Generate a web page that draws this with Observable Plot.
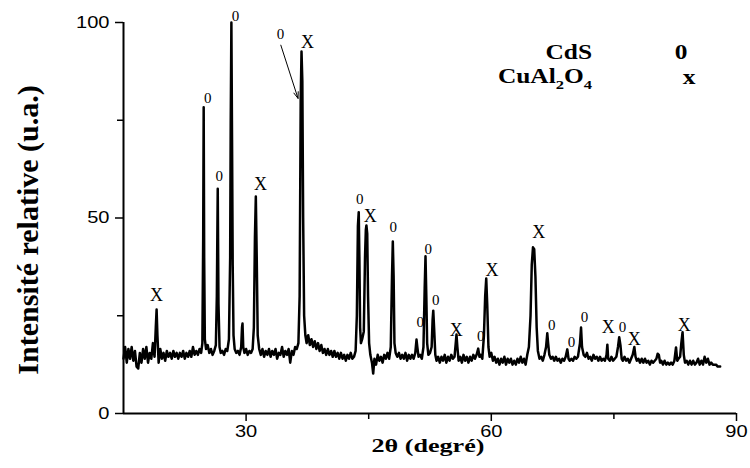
<!DOCTYPE html>
<html>
<head>
<meta charset="utf-8">
<script src="https://cdn.jsdelivr.net/npm/d3@7"></script>
<script src="https://cdn.jsdelivr.net/npm/@observablehq/plot@0.6"></script>
<style>
  html, body { margin: 0; padding: 0; background: #fff; }
  #chart { width: 750px; height: 468px; }
</style>
</head>
<body>
<div id="chart"></div>
<script>
// ---- Data ----
const twoTheta = [
  15.0,15.2,15.4,15.6,15.8,16.0,16.2,16.4,16.6,16.8,17.0,17.2,17.4,17.6,17.8,18.0,18.2,18.4,18.6,18.8,
  18.95,19.05,19.15,19.3,19.5,19.7,19.9,20.1,20.3,20.5,20.7,20.9,21.1,21.3,21.5,21.7,21.9,22.1,22.3,22.5,
  22.7,22.9,23.1,23.3,23.5,23.7,23.9,24.1,24.3,24.5,
  24.65,24.75,24.81,24.87,24.95,25.1,25.3,25.5,25.7,25.9,26.1,26.3,26.42,26.53,26.62,26.75,26.9,27.1,27.3,27.5,
  27.7,27.9,28.05,28.12,28.2,28.28,28.36,28.46,28.6,28.8,29.0,29.2,29.4,29.5,29.56,29.65,29.8,30.0,30.2,30.4,
  30.6,30.8,30.95,31.08,31.19,31.3,31.42,31.6,31.8,32.0,32.2,32.4,32.6,32.8,33.0,33.2,33.4,33.6,33.8,34.0,
  34.2,34.4,34.6,34.8,35.0,35.2,35.4,35.6,35.8,36.0,36.2,36.4,36.55,36.68,36.78,36.88,36.98,37.1,37.25,37.4,
  37.6,37.8,38.0,38.2,38.4,38.6,38.8,39.0,39.2,39.4,39.6,39.8,40.0,40.2,40.4,40.6,40.8,41.0,41.2,41.4,
  41.6,41.8,42.0,42.2,42.4,42.6,42.8,43.0,43.2,43.4,43.55,43.68,43.78,43.86,43.95,44.05,44.2,44.4,44.55,44.65,
  44.72,44.82,44.92,45.05,45.2,45.4,45.55,45.7,45.9,46.1,46.3,46.5,46.7,46.9,47.1,47.3,47.5,47.7,47.85,47.95,
  48.05,48.15,48.3,48.5,48.7,48.9,49.1,49.3,49.5,49.7,49.9,50.1,50.3,50.5,50.7,50.85,50.95,51.1,51.3,51.5,
  51.7,51.85,51.95,52.05,52.15,52.3,52.5,52.7,52.82,52.9,53.0,53.15,53.3,53.5,53.7,53.9,54.1,54.3,54.5,54.7,
  54.9,55.1,55.3,55.5,55.65,55.74,55.85,56.0,56.2,56.4,56.6,56.8,57.0,57.2,57.4,57.6,57.8,58.0,58.2,58.4,
  58.55,58.7,58.9,59.1,59.25,59.38,59.5,59.65,59.8,60.0,60.2,60.4,60.6,60.8,61.0,61.2,61.4,61.6,61.8,62.0,
  62.2,62.4,62.6,62.8,63.0,63.2,63.4,63.6,63.8,64.0,64.2,64.4,64.6,64.8,64.95,65.1,65.25,65.4,65.55,65.7,
  65.9,66.1,66.3,66.5,66.7,66.85,66.95,67.1,67.3,67.5,67.7,67.9,68.1,68.3,68.5,68.7,68.9,69.1,69.3,69.45,
  69.6,69.8,70.0,70.2,70.4,70.6,70.85,70.98,71.1,71.3,71.5,71.7,71.9,72.1,72.3,72.5,72.7,72.9,73.1,73.3,
  73.5,73.7,73.9,74.1,74.2,74.3,74.5,74.7,74.9,75.1,75.3,75.5,75.65,75.8,75.95,76.1,76.3,76.5,76.7,76.9,
  77.1,77.3,77.5,77.65,77.8,78.0,78.2,78.4,78.6,78.8,79.0,79.2,79.4,79.6,79.8,80.0,80.2,80.35,80.5,80.65,
  80.8,81.0,81.2,81.4,81.6,81.8,82.0,82.2,82.4,82.6,82.75,82.9,83.1,83.25,83.4,83.55,83.7,83.9,84.1,84.3,
  84.5,84.7,84.9,85.1,85.3,85.5,85.7,85.9,86.1,86.3,86.5,86.7,86.9,87.1,87.3,87.5,87.7,88.0
];
const intensity = [
  14,17,13,16.5,14,17,13.5,16,12,11.5,15.5,13,16.5,14,17,13,15.5,14,18,14.5,
  22,26.6,20,13,16.5,14,15.5,13.5,16,14.5,15.5,14,16,14.5,15.5,14,15.5,14.5,16,14,
  15.5,14.5,16,14.5,17,15,16,15,16.5,15.5,
  18,45,78.3,40,19,16.5,17.5,15.5,16.5,15,16,17.5,30,57.5,28,17,15.5,16,15,16.5,
  16,19,40,75,100,70,38,20,16.5,15.5,16,15,17,22,23,17,15.5,16.5,15,16,
  15.5,16.5,22,45,55.5,40,20,16.5,15,16.5,14.5,16,15,16.5,14.5,16,15,16.5,14,15.5,
  15,17,14.5,16,15,16.5,13,16,15,17,16.5,18,30,80,92.6,85,50,25,20,18,
  20,17.5,19,17,18.5,16.5,18,16,17.5,15.5,16.5,15,16.5,15,16,14.5,16,14.5,15.5,14,
  15.5,14,15,13.5,15,14,15.5,14,14.5,16,25,48,51.5,40,22,18,19,21,40,47,
  48.1,46,30,18,15,13,10.2,14,12.5,15,13.5,14.5,13,15,14,15.5,14,17,35,44,
  35,18,15.5,14.5,15.5,14,15,14,15.5,13.5,15,14,15,14,15.5,18.9,17,14.5,15,14,
  17,32,40.2,30,18,15,15.5,17,24,26.3,22,15,13.5,14.5,13,14.5,13.5,15,13,14.5,
  13.5,15,14,14.5,18,20.2,17,13.5,14.5,13,15,13.5,14.5,13,14.5,13.5,15,14,15,16.6,
  14.5,15,14,20,30,34.5,28,17,14.5,15.5,13.5,14.5,13,14,12.5,14,13,14.5,12.5,14,
  13,14,12.5,13.5,12.5,14,13,14.5,13,14,12.5,15,17,25,38,42.5,42,35,22,16,
  14,14.5,13.5,15,17,20.5,18,15,14,14.5,13.5,14.5,13.5,14,13,14,13.5,14.5,16.4,14,
  13.5,14,13.5,14.5,14,14.5,18,22,17,15,14.5,15.5,14,14.5,13.5,15,14,14.5,13.5,14.5,
  13.5,14,13.5,15,17.6,14,13.5,14.5,13.5,14,14.5,17,19.5,17.5,14,13.5,14.5,13.5,14,13,
  14,15,17,14.5,13.5,14,13,14,13,14,13,13.5,12.5,13.5,13,13.5,14,15.3,15,13,
  13.5,12.5,13.5,12.5,13,12.5,13,12.5,13.5,16.9,13.5,14,14.5,18,20.8,15,13,13.5,12.5,13.5,
  12.5,13.5,12.5,13,14,12.5,13.5,12.5,14.5,13,14,12.5,13,12.5,12.5,12.5,12,12
];

// Peak annotations ("0" = CdS, "X" = CuAl2O4)
const labelX    = [19.04, 25.3, 26.7, 28.7, 31.76, 34.2, 37.5, 43.9, 45.2, 48.0, 51.3, 52.3, 53.2, 55.7, 58.7, 60.1, 65.8, 67.4, 69.8, 71.4, 74.3, 76.05, 77.5, 83.6];
const labelY    = [30.2, 80.6, 60.6, 101.5, 58.6, 96.9, 94.9, 54.7, 50.4, 47.6, 23.3, 41.9, 28.9, 21.2, 19.9, 36.6, 46.3, 22.5, 18.2, 24.6, 22.0, 22.0, 18.9, 22.5];
const labelText = ["X","0","0","0","X","0","X","0","X","0","0","0","0","X","0","X","X","0","0","0","X","0","X","X"];

// Arrow from the "0" label to the 36.8° peak
const arrowFrom = [34.25, 94.2];
const arrowTo   = [36.35, 80.6];

// Legend
const legendNames   = ["CdS", "CuAl2O4"];
const legendSymbols = ["0", "x"];
const legendX = [66.63, 83.21, 84.19];
const legendY = [92.35, 85.96];

// Axes ticks
const xTicks = [30, 60, 90];
const xMinor = [45, 75];
const yTicks = [0, 50, 100];
const yMinor = [25, 75];

const spectrum = twoTheta.map((t, i) => ({t, v: intensity[i]}));
const labels = labelX.map((x, i) => ({x, y: labelY[i], s: labelText[i]}));

const serif = "Liberation Serif, Times New Roman, serif";
const sans = "Liberation Sans, Arial, sans-serif";

const plot = Plot.plot({
  width: 750,
  height: 468,
  marginLeft: 123,
  marginRight: 14,
  marginTop: 22,
  marginBottom: 55,
  style: {fontFamily: sans, background: "#fff", color: "#000"},
  x: {domain: [15, 90]},
  y: {domain: [0, 100]},
  marks: [
    Plot.axisX(xTicks, {tickSize: 8, tickPadding: 3, fontSize: 17, label: null, strokeWidth: 1.5}),
    Plot.axisX(xMinor, {tickSize: 6, text: null, label: null, strokeWidth: 1.5}),
    Plot.axisY(yTicks, {tickSize: 8, tickPadding: 6, fontSize: 17, label: null, strokeWidth: 1.5}),
    Plot.axisY(yMinor, {tickSize: 6, text: null, label: null, strokeWidth: 1.5}),
    Plot.ruleY([0], {stroke: "#000", strokeWidth: 2}),
    Plot.ruleX([15], {stroke: "#000", strokeWidth: 2}),
    Plot.line(spectrum, {x: "t", y: "v", stroke: "#000", strokeWidth: 2.5, strokeLinejoin: "round"}),
    Plot.text(labels.filter(d => d.s === "0"), {x: "x", y: "y", text: "s", fontFamily: serif, fontSize: 15, fill: "#000"}),
    Plot.text(labels.filter(d => d.s === "X"), {x: "x", y: "y", text: "s", fontFamily: serif, fontSize: 18, fill: "#000"}),
    Plot.arrow([{x1: arrowFrom[0], y1: arrowFrom[1], x2: arrowTo[0], y2: arrowTo[1]}], {x1: "x1", y1: "y1", x2: "x2", y2: "y2", stroke: "#000", strokeWidth: 1, headLength: 10, headAngle: 40}),
    Plot.text([legendNames[0]], {x: legendX[0], y: legendY[0], text: d => d, textAnchor: "start", fontFamily: serif, fontWeight: "bold", fontSize: 20, fill: "#000", className: "stretch-legend"}),
    Plot.text([legendSymbols[0]], {x: legendX[1], y: legendY[0], text: d => d, fontFamily: serif, fontWeight: "bold", fontSize: 20, fill: "#000", className: "stretch-legend"}),
    Plot.text([legendSymbols[1]], {x: legendX[2], y: legendY[1], text: d => d, fontFamily: serif, fontWeight: "bold", fontSize: 20, fill: "#000", className: "stretch-legend"}),
    Plot.text(["2θ (degré)"], {frameAnchor: "bottom", dy: 38, dx: -2, text: d => d, fontFamily: serif, fontWeight: "bold", fontSize: 18, fill: "#000", className: "xlabel"}),
    Plot.text(["Intensité relative (u.a.)"], {frameAnchor: "left", textAnchor: "middle", dx: -95, dy: 12, rotate: -90, text: d => d, fontFamily: serif, fontWeight: "bold", fontSize: 30, fill: "#000"})
  ]
});

// Legend entry with subscripts
const xs = plot.scale("x"), ys = plot.scale("y");
const g = d3.select(plot).append("text")
  .attr("class", "cual")
  .attr("x", xs.apply(legendX[0])).attr("y", ys.apply(legendY[1])).attr("dy", "0.32em")
  .attr("font-family", serif).attr("font-weight", "bold").attr("font-size", 20).attr("fill", "#000");
g.append("tspan").text("CuAl");
g.append("tspan").attr("font-size", 13).attr("dy", 6).text("2");
g.append("tspan").attr("dy", -6).text("O");
g.append("tspan").attr("font-size", 13).attr("dy", 6).text("4");

document.getElementById("chart").appendChild(plot);

// Horizontal stretching of texts to match the reference's wide lettering
function stretch(sel, factor) {
  sel.each(function () {
    const L = this.getComputedTextLength();
    this.setAttribute("textLength", L * factor);
    this.setAttribute("lengthAdjust", "spacingAndGlyphs");
  });
}
const svg = d3.select(plot);
stretch(svg.selectAll('g[aria-label="y-axis tick label"] text'), 1.18);
stretch(svg.selectAll('g[aria-label="x-axis tick label"] text'), 1.18);
stretch(svg.selectAll(".stretch-legend text"), 1.27);
stretch(svg.selectAll(".xlabel text"), 1.45);
stretch(svg.selectAll("text.cual"), 1.27);
</script>
</body>
</html>
